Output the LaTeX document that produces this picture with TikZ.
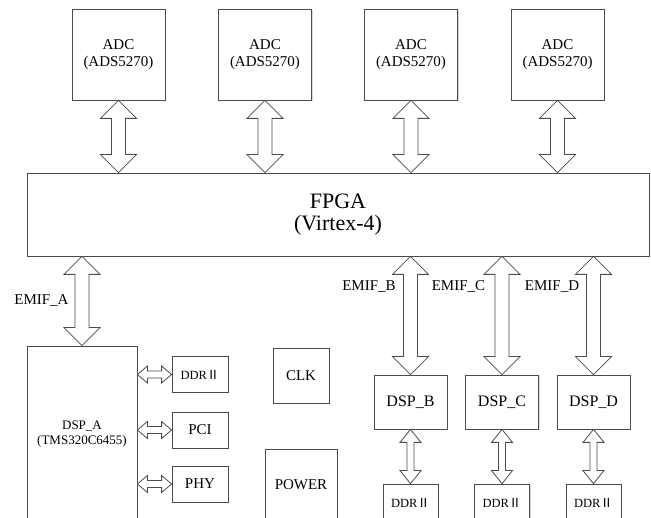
\documentclass[tikz,border=0pt]{standalone}
\usepackage{fontspec}
\setmainfont{Liberation Serif}
\newfontfamily\cjk{Noto Sans CJK SC}
\usetikzlibrary{calc, shadows}

% DDR II label (roman numeral from the CJK font)
\newcommand{\ddrtxt}{DDR{\cjk Ⅱ}}

% fat vertical double arrow: from, to, half head, half shaft, head length
\newcommand{\busV}[5]{%
  \draw[bus] let \p1=(#1), \p2=(#2) in
    (\x1,\y1) -- (\x1+#3pt,\y1-#5pt) -- (\x1+#4pt,\y1-#5pt) -- (\x1+#4pt,\y2+#5pt)
    -- (\x1+#3pt,\y2+#5pt) -- (\x1,\y2) -- (\x1-#3pt,\y2+#5pt) -- (\x1-#4pt,\y2+#5pt)
    -- (\x1-#4pt,\y1-#5pt) -- (\x1-#3pt,\y1-#5pt) -- cycle;}

% fat horizontal double arrow: from, to, half head, half shaft, head length
\newcommand{\busH}[5]{%
  \draw[bus] let \p1=(#1), \p2=(#2) in
    (\x1,\y1) -- (\x1+#5pt,\y1+#3pt) -- (\x1+#5pt,\y1+#4pt) -- (\x2-#5pt,\y1+#4pt)
    -- (\x2-#5pt,\y1+#3pt) -- (\x2,\y1) -- (\x2-#5pt,\y1-#3pt) -- (\x2-#5pt,\y1-#4pt)
    -- (\x1+#5pt,\y1-#4pt) -- (\x1+#5pt,\y1-#3pt) -- cycle;}

\begin{document}
\begin{tikzpicture}[
    x=1pt, y=-1pt,
    % Estilo de las cajas
    box/.style={draw=black!70, line width=0.8pt, fill=white, align=center, inner sep=0pt,
      drop shadow={shadow xshift=1pt, shadow yshift=-1pt, fill=black!15, opacity=1}},
    % Estilo de los buses (flechas gruesas)
    bus/.style={draw=black!70, line width=0.8pt, fill=white, line join=miter},
    lbl/.style={font=\fontsize{15}{17}\selectfont, inner sep=0pt}
]
    \path[use as bounding box] (0,0) rectangle (651,518);
    \clip (0,0) rectangle (651,518);

    % ==========================================
    % ADCs y FPGA
    % ==========================================
    \foreach \i/\xc in {1/118.5, 2/265, 3/411, 4/557.5}
        \node[box, minimum width=93pt, minimum height=91pt, font=\fontsize{15}{17}\selectfont]
            (adc\i) at (\xc,54.5) {ADC\\(ADS5270)};

    \node[box, minimum width=622pt, minimum height=83pt, font=\fontsize{22}{22}\selectfont]
        (fpga) at (338,214.5) {FPGA\\(Virtex-4)};

    \foreach \i in {1,...,4}
        \busV{adc\i.south}{adc\i.south |- fpga.north}{18}{7}{18};

    % ==========================================
    % DSP_A con sus periféricos
    % ==========================================
    \node[box, minimum width=110pt, minimum height=176pt, font=\fontsize{13}{15}\selectfont]
        (dspa) at (82,434) {DSP\_A\\(TMS320C6455)};
    \node[box, minimum width=56pt, minimum height=36pt, font=\fontsize{12.5}{14}\selectfont]
        (ddra) at (200,374.5) {\ddrtxt};
    \node[box, minimum width=56pt, minimum height=36pt, font=\fontsize{15}{17}\selectfont]
        (pci) at (200,430) {PCI};
    \node[box, minimum width=56pt, minimum height=36pt, font=\fontsize{15}{17}\selectfont]
        (phy) at (200,484) {PHY};

    \busV{dspa.north |- fpga.south}{dspa.north}{18}{7}{18};
    \node[lbl] (emifa) at (41.5,301) {EMIF\_A};

    \foreach \m in {ddra, pci, phy}
        \busH{dspa.east |- \m.west}{\m.west}{8.5}{3.5}{10};

    % CLK y POWER
    \node[box, minimum width=56pt, minimum height=55pt, font=\fontsize{15}{17}\selectfont]
        (clk) at (301,375.5) {CLK};
    \node[box, minimum width=72pt, minimum height=72pt, font=\fontsize{15}{17}\selectfont]
        (power) at (301,485) {POWER};

    % ==========================================
    % DSP_B, DSP_C, DSP_D con su DDR II
    % ==========================================
    \foreach \k/\K/\xc/\lx in {b/B/410.5/369, c/C/502/458.5, d/D/593.5/552} {
        \node[box, minimum width=73pt, minimum height=54pt, font=\fontsize{16}{18}\selectfont]
            (dsp\k) at (\xc,402) {DSP\_\K};
        \node[box, minimum width=55pt, minimum height=38pt, font=\fontsize{12.5}{14}\selectfont]
            (ddr\k) at (\xc,503) {\ddrtxt};
        \busV{dsp\k.north |- fpga.south}{dsp\k.north}{18}{7}{18};
        \busV{dsp\k.south}{ddr\k.north}{10.5}{3.5}{13};
        \node[lbl] (emif\k) at (\lx,287) {EMIF\_\K};
    }
\end{tikzpicture}
\end{document}
